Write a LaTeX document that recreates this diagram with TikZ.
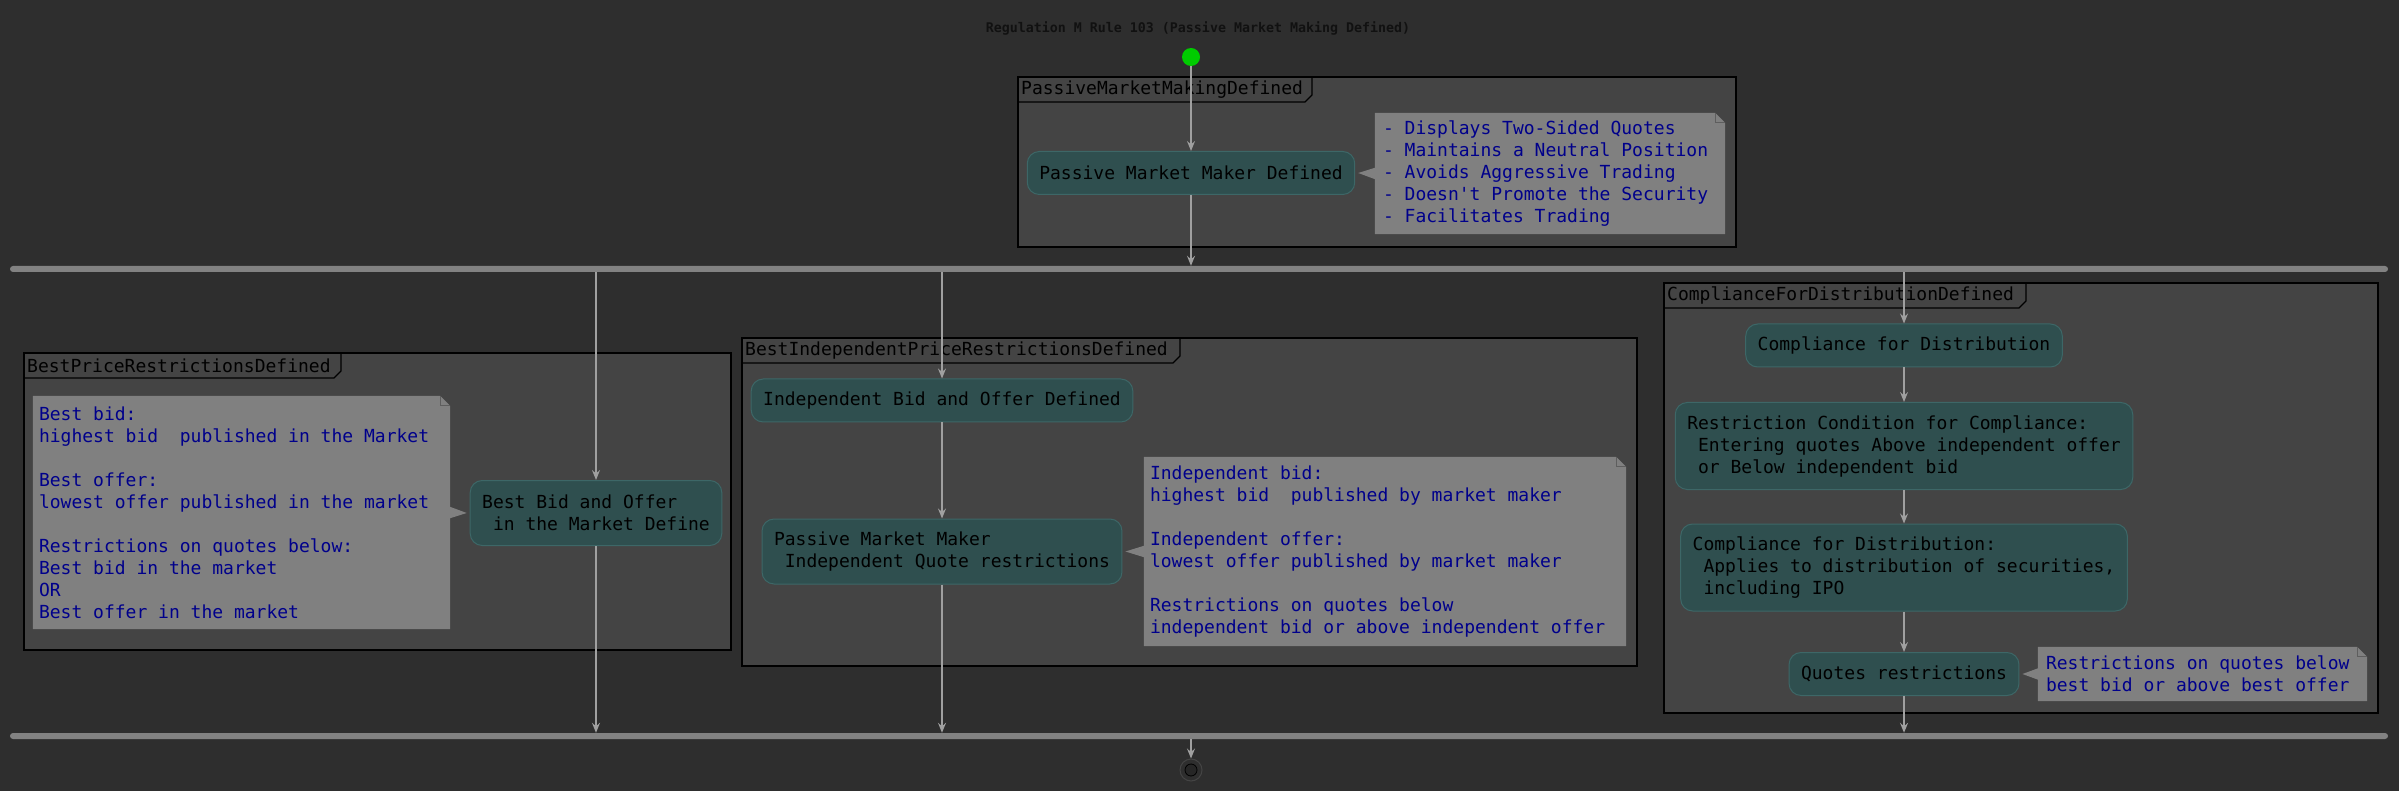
\documentclass[tikz,border=0pt]{standalone}
\usepackage{fontspec}
\newfontfamily\umlfont{DejaVu Sans Mono}[Ligatures=TeXOff]
\usetikzlibrary{arrows.meta}
\pgfdeclarelayer{bglayer}
\pgfdeclarelayer{framelayer}
\pgfdeclarelayer{notelayer}
\pgfsetlayers{bglayer,framelayer,notelayer,main}
\definecolor{bgc}{HTML}{2E2E2E}
\definecolor{framec}{HTML}{444444}
\definecolor{actfill}{HTML}{2F4F4F}
\definecolor{actline}{HTML}{3D6767}
\definecolor{notefill}{HTML}{808080}
\definecolor{foldc}{HTML}{5E5E5E}
\definecolor{notetext}{HTML}{00008B}
\definecolor{linec}{HTML}{A0A0A0}
\definecolor{barc}{HTML}{828282}
\definecolor{startc}{HTML}{00CC00}
\definecolor{endring}{HTML}{444444}
\definecolor{endfill}{HTML}{262626}
\definecolor{titlec}{HTML}{111111}
\newcommand\ldsp{\phantom{x}}
\begin{document}
\begin{tikzpicture}[x=1pt,y=-1pt,
  umltext/.style={font=\umlfont\fontsize{18}{22}\selectfont},
  act/.style={umltext, rectangle, rounded corners=12pt, fill=actfill, draw=actline, line width=1pt, inner xsep=12pt, inner ysep=0pt, align=left, text=black},
  hone/.style={minimum height=43pt},
  htwo/.style={minimum height=65pt},
  hthree/.style={minimum height=87pt},
  notebg/.style={rectangle, inner sep=0pt},
  note/.style={umltext, rectangle, inner sep=0pt, align=left, text=notetext, anchor=west},
  arr/.style={draw=linec, line width=1.2pt, -{Stealth[length=10pt,width=8pt,inset=3.5pt]}},
  bar/.style={rectangle, fill=barc, rounded corners=3pt, minimum height=6pt, inner sep=0pt},
  flabel/.style={umltext, text=black, inner xsep=3pt, inner ysep=0pt, anchor=west},
  framebox/.style={fill=framec, draw=black, line width=1.5pt},
  tabline/.style={draw=black, line width=1.2pt},
]
\begin{pgfonlayer}{bglayer}
\useasboundingbox[fill=bgc] (0,0) rectangle (2399,791);
\end{pgfonlayer}

% title
\node[font=\umlfont\bfseries\fontsize{13.3}{16}\selectfont, text=titlec] (title) at (1198,28) {Regulation M Rule 103 (Passive Market Making Defined)};

% frames
\begin{pgfonlayer}{framelayer}
\path[framebox] (1018,77) rectangle (1736,247);
\path[tabline] (1018,102) -- (1305,102) -- (1312,95) -- (1312,77);
\path[framebox] (24,353) rectangle (731,650);
\path[tabline] (24,378) -- (334,378) -- (341,371) -- (341,353);
\path[framebox] (742,338) rectangle (1637,666);
\path[tabline] (742,363) -- (1173,363) -- (1180,356) -- (1180,338);
\path[framebox] (1664,283) rectangle (2378,713);
\path[tabline] (1664,308) -- (2019,308) -- (2026,301) -- (2026,283);
\end{pgfonlayer}
\node[flabel] (fl1) at (1018,89.5) {PassiveMarketMakingDefined};
\node[flabel] (fl2) at (24,365.5) {BestPriceRestrictionsDefined};
\node[flabel] (fl3) at (742,350.5) {BestIndependentPriceRestrictionsDefined};
\node[flabel] (fl4) at (1664,295.5) {ComplianceForDistributionDefined};

% start / end
\node[circle, fill=startc, minimum size=18pt, inner sep=0pt] (start) at (1191,57) {};
\node[circle, draw=endring, line width=1pt, minimum size=22pt, inner sep=0pt] (end) at (1191,770) {};
\node[circle, fill=endfill, draw=black, line width=0.8pt, minimum size=12pt, inner sep=0pt] (endin) at (1191,770) {};

% bars
\node[bar, minimum width=2378pt] (fork) at (1199,269) {};
\node[bar, minimum width=2378pt] (join) at (1199,736) {};

% activities
\node[act, hone] (n1) at (1191,173) {Passive Market Maker Defined};
\node[act, htwo] (n2) at (596,513) {Best Bid and Offer\\\ldsp in the Market Define};
\node[act, hone] (n3) at (942,400.5) {Independent Bid and Offer Defined};
\node[act, htwo] (n4) at (942,551.5) {Passive Market Maker\\\ldsp Independent Quote restrictions};
\node[act, hone] (n5) at (1904,345.5) {Compliance for Distribution};
\node[act, hthree] (n6) at (1904,446) {Restriction Condition for Compliance:\\\ldsp Entering quotes Above independent offer\\\ldsp or Below independent bid};
\node[act, hthree] (n7) at (1904,567.5) {Compliance for Distribution:\\\ldsp Applies to distribution of securities,\\\ldsp including IPO};
\node[act, hone] (n8) at (1904,674) {Quotes restrictions};

% notes (background boxes and texts)
\node[notebg, minimum width=350pt, minimum height=121pt] (m1) at (1550,173.5) {};
\node[notebg, minimum width=417pt, minimum height=233pt] (m2) at (241.5,512.5) {};
\node[notebg, minimum width=482pt, minimum height=189pt] (m3) at (1385,551.5) {};
\node[notebg, minimum width=329pt, minimum height=54pt] (m4) at (2202.5,674) {};

\node[note] (t1) at ([xshift=8pt]m1.west) {- Displays Two-Sided Quotes\\- Maintains a Neutral Position\\- Avoids Aggressive Trading\\- Doesn't Promote the Security\\- Facilitates Trading};
\node[note] (t2) at ([xshift=6pt]m2.west) {Best bid:\\highest bid~~published in the Market\\[22pt]Best offer:\\lowest offer published in the market\\[22pt]Restrictions on quotes below:\\Best bid in the market\\OR\\Best offer in the market};
\node[note] (t3) at ([xshift=6pt]m3.west) {Independent bid:\\highest bid~~published by market maker\\[22pt]Independent offer:\\lowest offer published by market maker\\[22pt]Restrictions on quotes below\\independent bid or above independent offer};
\node[note] (t4) at ([xshift=8pt]m4.west) {Restrictions on quotes below\\best bid or above best offer};

\begin{pgfonlayer}{notelayer}
\foreach \m in {m1,m2,m3,m4}{
  \fill[notefill] (\m.north west) -- ([xshift=-10pt]\m.north east) -- ([yshift=-10pt]\m.north east) -- (\m.south east) -- (\m.south west) -- cycle;
  \draw[foldc, line width=0.8pt] ([xshift=-10pt]\m.north east) -- ([xshift=-10pt,yshift=-10pt]\m.north east) -- ([yshift=-10pt]\m.north east);
}
\fill[notefill] ([xshift=3pt]n1.east) -- ([yshift=6pt,xshift=1pt]m1.west) -- ([yshift=-6pt,xshift=1pt]m1.west) -- cycle;
\fill[notefill] ([xshift=-3pt]n2.west) -- ([yshift=6pt,xshift=-1pt]m2.east) -- ([yshift=-6pt,xshift=-1pt]m2.east) -- cycle;
\fill[notefill] ([xshift=3pt]n4.east) -- ([yshift=6pt,xshift=1pt]m3.west) -- ([yshift=-6pt,xshift=1pt]m3.west) -- cycle;
\fill[notefill] ([xshift=3pt]n8.east) -- ([yshift=6pt,xshift=1pt]m4.west) -- ([yshift=-6pt,xshift=1pt]m4.west) -- cycle;
\end{pgfonlayer}

% connectors
\draw[arr] (start) -- (n1);
\draw[arr] (n1.south) -- (n1.south |- fork.north);
\draw[arr] (fork.south -| n2.north) -- (n2.north);
\draw[arr] (n2.south) -- (n2.south |- join.north);
\draw[arr] (fork.south -| n3.north) -- (n3.north);
\draw[arr] (n3.south) -- (n4.north);
\draw[arr] (n4.south) -- (n4.south |- join.north);
\draw[arr] (fork.south -| n5.north) -- (n5.north);
\draw[arr] (n5.south) -- (n6.north);
\draw[arr] (n6.south) -- (n7.north);
\draw[arr] (n7.south) -- (n8.north);
\draw[arr] (n8.south) -- (n8.south |- join.north);
\draw[arr] (join.south -| end.north) -- (end.north);
\end{tikzpicture}
\end{document}
